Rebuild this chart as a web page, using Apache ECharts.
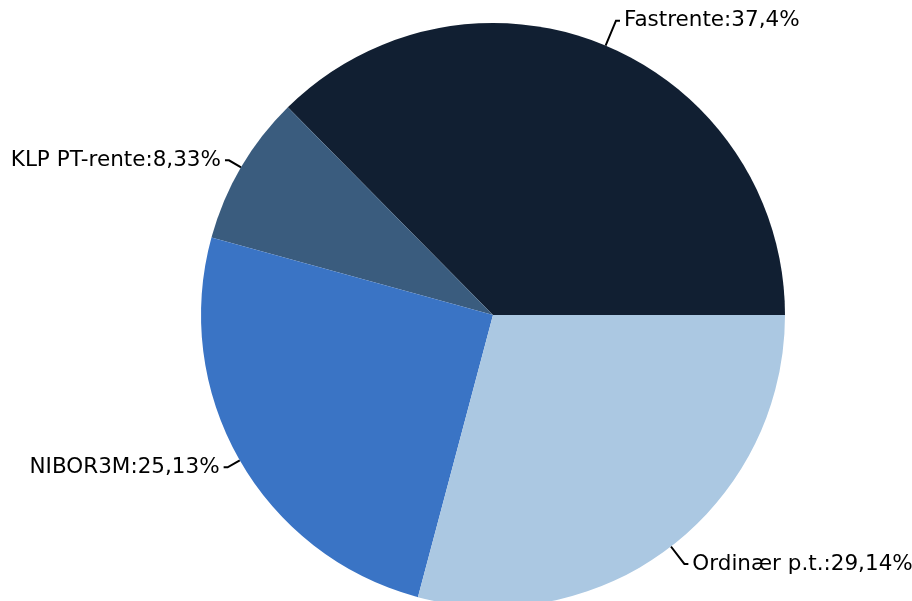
<!DOCTYPE html>
<html><head><meta charset="utf-8">
<script src="https://cdn.jsdelivr.net/npm/echarts@6/dist/echarts.min.js"></script>
<style>html,body{margin:0;padding:0;background:#fff}#c{width:912px;height:601px}</style>
</head><body><div id="c"></div>
<script>
const categories = ["Fastrente", "KLP PT-rente", "NIBOR3M", "Ordinær p.t."];
const values = [37.4, 8.33, 25.13, 29.14];
const colors = ["#111f32", "#3a5c7e", "#3a74c5", "#abc8e2"];
const lineLengths = [27, 14, 14, 22];
const chart = echarts.init(document.getElementById('c'));
chart.setOption({
  animation: false,
  series: [{
    type: 'pie',
    center: [493, 315],
    radius: 292,
    startAngle: 0,
    clockwise: false,
    data: categories.map((n, i) => ({name: n, value: values[i], itemStyle: {color: colors[i]},
      labelLine: {length: lineLengths[i]}})),
    label: {
      show: true,
      color: '#000',
      fontFamily: 'DejaVu Sans',
      fontSize: 21.5,
      overflow: 'none',
      formatter: p => p.name + ':' + String(p.value).replace('.', ',') + '%',
      distanceToLabelLine: 4
    },
    labelLine: { show: true, length: 20, length2: 4, lineStyle: {color: '#000', width: 2} },
    itemStyle: { borderWidth: 0 }
  }]
});
</script></body></html>
